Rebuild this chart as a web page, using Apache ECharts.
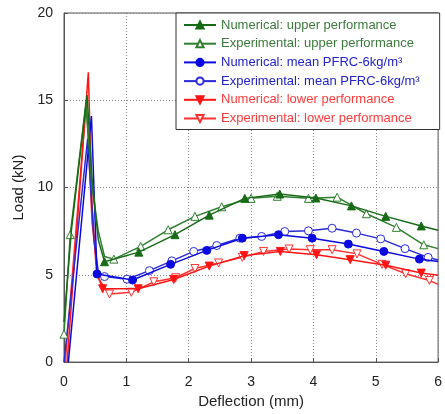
<!DOCTYPE html>
<html><head><meta charset="utf-8">
<script src="https://cdn.jsdelivr.net/npm/echarts@6/dist/echarts.min.js"></script>
<style>html,body{margin:0;padding:0;background:#fff}#c{width:445px;height:414px}</style>
</head><body><div id="c"></div>
<script>
// Legend names
const seriesNames = [
  'Numerical: upper performance',
  'Experimental: upper performance',
  'Numerical: mean PFRC-6kg/m\u00b3',
  'Experimental: mean PFRC-6kg/m\u00b3',
  'Numerical: lower performance',
  'Experimental: lower performance'
];
const xTicks = [0, 1, 2, 3, 4, 5, 6];
const yTicks = [0, 5, 10, 15, 20];

// Numerical upper: [deflection mm, load kN]
const numUpperRise = [[0,2.3],[0.12,7.6],[0.37,15.3],[0.45,10.5],[0.55,7.0]];
const numUpperPts  = [[0.65,5.75],[1.2,6.3],[1.78,7.3],[2.33,8.42],[2.9,9.38],[3.46,9.63],[4.04,9.4],[4.61,8.95],[5.16,8.35],[5.73,7.8]];
const numUpperEnd  = [[6,7.55]];

// Experimental upper
const expUpperStart = [[0,1.6],[0.1,7.3]];
const expUpperRise  = [[0.35,14.8],[0.45,10.0],[0.55,7.5],[0.65,6.05]];
const expUpperPts   = [[0.8,5.9],[1.23,6.63],[1.67,7.58],[2.1,8.35],[2.53,8.9],[3.0,9.38],[3.42,9.5],[3.92,9.38],[4.38,9.45],[4.85,8.5],[5.33,7.72],[5.77,6.72]];
const expUpperEnd   = [[6,6.5]];

// Numerical mean
const numMeanRise = [[0.07,0],[0.44,14.1],[0.5,8.0]];
const numMeanPts  = [[0.53,5.05],[1.1,4.7],[1.71,5.6],[2.29,6.4],[2.86,7.1],[3.44,7.3],[3.98,7.1],[4.56,6.76],[5.13,6.34],[5.7,5.9]];
const numMeanEnd  = [[6,5.77]];

// Experimental mean
const expMeanRise = [[0,0],[0.38,12.8],[0.48,7.0],[0.55,5.2]];
const expMeanPts  = [[0.65,4.9],[1.01,4.75],[1.37,5.24],[1.73,5.8],[2.08,6.34],[2.45,6.68],[2.82,7.1],[3.17,7.2],[3.54,7.48],[3.92,7.52],[4.3,7.67],[4.69,7.39],[5.08,7.06],[5.47,6.5],[5.84,6.0]];
const expMeanEnd  = [[6,5.85]];

// Numerical lower
const numLowerRise = [[0.05,0],[0.39,16.6],[0.45,9.0],[0.52,5.2]];
const numLowerPts  = [[0.62,4.2],[1.19,4.2],[1.76,4.73],[2.33,5.5],[2.89,6.1],[3.47,6.34],[4.05,6.15],[4.59,5.87],[5.16,5.55],[5.73,5.1]];
const numLowerEnd  = [[6,4.98]];

// Experimental lower
const expLowerRise = [[0.02,0],[0.36,15.0],[0.45,8.0],[0.55,4.8]];
const expLowerPts  = [[0.73,3.9],[1.08,4.0],[1.44,4.6],[1.79,4.83],[2.1,5.36],[2.48,5.68],[2.86,6.0],[3.2,6.34],[3.61,6.48],[3.95,6.44],[4.3,6.44],[4.7,6.2],[5.1,5.6],[5.48,5.06],[5.86,4.68]];
const expLowerEnd  = [[6,4.45]];

function build(segments) {
  const out = [];
  segments.forEach(([arr, marked]) => {
    arr.forEach(p => {
      const item = { value: p };
      if (!marked) item.symbol = 'none';
      out.push(item);
    });
  });
  return out;
}

const GREEN = '#176b17', GREEN2 = '#2f7f2f';
const BLUE = '#0a0ae0', BLUE2 = '#2a2ad8';
const RED = '#ff1414', RED2 = '#ff3030';
const DOWN = 'path://M0,0 L10,0 L5,9 Z';

function mkSeries(name, data, color, symbol, size, filled, z) {
  return {
    name, type: 'line', data, z,
    symbol, symbolSize: size, showSymbol: true,
    lineStyle: { color, width: 1.5 },
    itemStyle: { color: filled ? color : '#ffffff', borderColor: color, borderWidth: 1 },
    animation: false
  };
}

const chart = echarts.init(document.getElementById('c'));
chart.setOption({
  animation: false,
  textStyle: { fontFamily: 'Liberation Sans, Arial, sans-serif' },
  grid: { left: 64, right: 3, top: 13, bottom: 49, show: true, borderColor: '#555', borderWidth: 1 },
  xAxis: {
    type: 'value', min: xTicks[0], max: xTicks[xTicks.length-1], interval: 1,
    name: 'Deflection (mm)', nameLocation: 'middle', nameGap: 30,
    nameTextStyle: { fontSize: 15, color: '#222' },
    axisLine: { lineStyle: { color: '#555' } },
    axisTick: { inside: true, length: 4, lineStyle: { color: '#555' } },
    axisLabel: { fontSize: 14, color: '#222', margin: 13 },
    splitLine: { lineStyle: { color: '#888', type: [1, 2] } }
  },
  yAxis: {
    type: 'value', min: yTicks[0], max: yTicks[yTicks.length-1], interval: 5,
    name: 'Load (kN)', nameLocation: 'middle', nameGap: 33,
    nameTextStyle: { fontSize: 15, color: '#222' },
    axisLine: { lineStyle: { color: '#555' } },
    axisTick: { inside: true, length: 4, lineStyle: { color: '#555' } },
    axisLabel: { fontSize: 14, color: '#222', margin: 11 },
    splitLine: { lineStyle: { color: '#888', type: [1, 2] } }
  },
  legend: {
    orient: 'vertical', left: 176, top: 13,
    padding: [5, 20, 4, 7], itemGap: 4.7, itemWidth: 32, itemHeight: 9,
    backgroundColor: '#fff', borderColor: '#333', borderWidth: 1,
    textStyle: { fontSize: 13, lineHeight: 14 },
    data: seriesNames.map((n, i) => ({
      name: n,
      textStyle: { color: ['#3b7b3b','#3b7b3b','#2323c8','#2323c8','#ff3a3a','#ff3a3a'][i], fontSize: 13, lineHeight: 14 }
    }))
  },
  series: [
    mkSeries(seriesNames[0], build([[numUpperRise,false],[numUpperPts,true],[numUpperEnd,false]]), GREEN, 'triangle', 8, true, 6),
    mkSeries(seriesNames[1], build([[expUpperStart,true],[expUpperRise,false],[expUpperPts,true],[expUpperEnd,false]]), GREEN2, 'triangle', 8, false, 5),
    mkSeries(seriesNames[2], build([[numMeanRise,false],[numMeanPts,true],[numMeanEnd,false]]), BLUE, 'circle', 8, true, 4),
    mkSeries(seriesNames[3], build([[expMeanRise,false],[expMeanPts,true],[expMeanEnd,false]]), BLUE2, 'circle', 8, false, 3),
    mkSeries(seriesNames[4], build([[numLowerRise,false],[numLowerPts,true],[numLowerEnd,false]]), RED, DOWN, 8, true, 2),
    mkSeries(seriesNames[5], build([[expLowerRise,false],[expLowerPts,true],[expLowerEnd,false]]), RED2, DOWN, 8, false, 1)
  ]
});
</script></body></html>
